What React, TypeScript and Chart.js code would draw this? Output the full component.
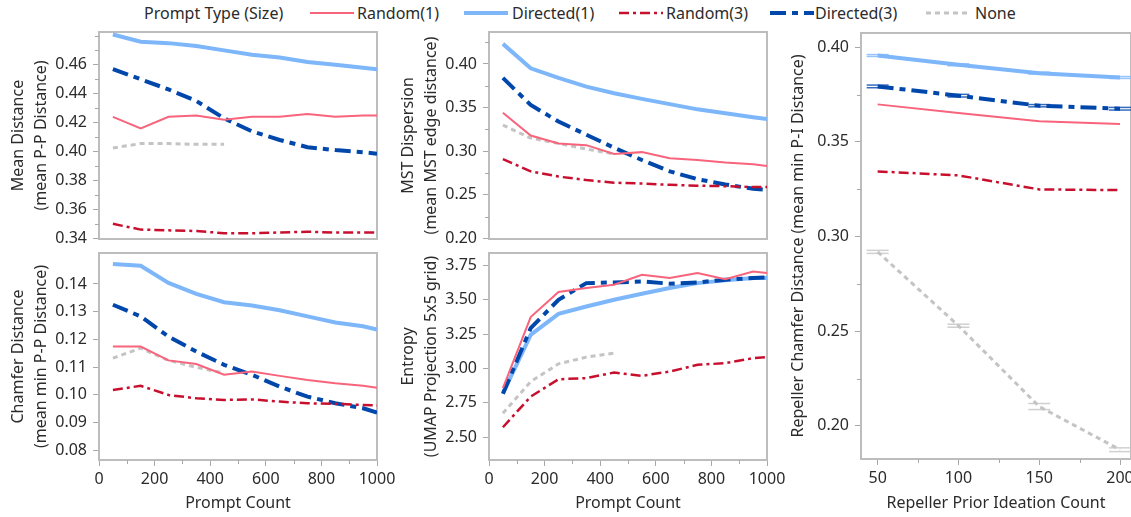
import React, { useEffect, useRef } from 'react';
import { Chart, registerables } from 'chart.js';
Chart.register(...registerables);

// ---------- data ----------
const seriesNames = ['Random(1)', 'Directed(1)', 'Random(3)', 'Directed(3)', 'None'];
const seriesColors = ['#F8647B', '#7EB6FA', '#C8102E', '#0047AB', '#C4C4C4'];
const seriesWidths = [2, 4, 2.5, 4, 3];
const seriesDashes = [[], [], [10, 4, 3, 4], [16, 6, 6, 6], [5, 4]];
const legendTitle = 'Prompt Type (Size)';

const promptCounts = [50, 150, 250, 350, 450, 550, 650, 750, 850, 950, 1000];
const noneCounts = [50, 150, 250, 350, 450];
const promptTicks = [0, 200, 400, 600, 800, 1000];

const meanR1 = [0.424, 0.416, 0.424, 0.425, 0.422, 0.424, 0.424, 0.426, 0.424, 0.425, 0.425];
const meanD1 = [0.481, 0.476, 0.475, 0.473, 0.470, 0.467, 0.465, 0.462, 0.460, 0.458, 0.457];
const meanR3 = [0.350, 0.346, 0.3455, 0.345, 0.3435, 0.3435, 0.344, 0.3445, 0.344, 0.344, 0.344];
const meanD3 = [0.457, 0.450, 0.443, 0.435, 0.423, 0.414, 0.408, 0.403, 0.401, 0.3995, 0.3985];
const meanNone = [0.4025, 0.4055, 0.4055, 0.405, 0.405];
const meanTicks = [0.34, 0.36, 0.38, 0.40, 0.42, 0.44, 0.46];

const mstR1 = [0.344, 0.318, 0.309, 0.307, 0.297, 0.299, 0.292, 0.290, 0.287, 0.285, 0.283];
const mstD1 = [0.423, 0.395, 0.384, 0.374, 0.3665, 0.360, 0.354, 0.348, 0.3435, 0.339, 0.337];
const mstR3 = [0.291, 0.277, 0.271, 0.267, 0.264, 0.263, 0.2615, 0.2605, 0.260, 0.259, 0.259];
const mstD3 = [0.384, 0.353, 0.334, 0.319, 0.304, 0.290, 0.277, 0.268, 0.262, 0.257, 0.256];
const mstNone = [0.330, 0.315, 0.309, 0.3025, 0.297];
const mstTicks = [0.20, 0.25, 0.30, 0.35, 0.40];

const chamR1 = [0.1174, 0.1174, 0.1124, 0.1111, 0.1072, 0.1084, 0.1068, 0.1053, 0.1041, 0.1032, 0.1025];
const chamD1 = [0.1472, 0.1466, 0.1404, 0.1364, 0.1334, 0.1322, 0.1305, 0.1283, 0.1261, 0.1247, 0.1235];
const chamR3 = [0.1017, 0.1032, 0.0999, 0.0987, 0.0981, 0.0983, 0.0975, 0.0969, 0.0967, 0.0963, 0.0961];
const chamD3 = [0.1325, 0.1283, 0.1210, 0.1156, 0.1108, 0.1072, 0.1029, 0.0993, 0.0969, 0.0951, 0.0935];
const chamNone = [0.1132, 0.1168, 0.1124, 0.1099, 0.1078];
const chamTicks = [0.08, 0.09, 0.10, 0.11, 0.12, 0.13, 0.14];

const entR1 = [2.857, 3.374, 3.556, 3.585, 3.609, 3.682, 3.658, 3.694, 3.650, 3.706, 3.694];
const entD1 = [2.820, 3.245, 3.398, 3.451, 3.500, 3.544, 3.585, 3.621, 3.641, 3.658, 3.658];
const entR3 = [2.573, 2.796, 2.922, 2.930, 2.971, 2.947, 2.978, 3.027, 3.039, 3.075, 3.083];
const entD3 = [2.816, 3.294, 3.500, 3.621, 3.626, 3.633, 3.617, 3.626, 3.646, 3.658, 3.663];
const entNone = [2.675, 2.905, 3.034, 3.083, 3.112];
const entTicks = [2.50, 2.75, 3.00, 3.25, 3.50, 3.75];

const repCounts = [50, 100, 150, 200];
const repR1 = [0.3698, 0.3653, 0.3609, 0.3595];
const repD1 = [0.3956, 0.3907, 0.3863, 0.3840];
const repR3 = [0.3344, 0.3323, 0.3249, 0.3245];
const repD3 = [0.3793, 0.3744, 0.3691, 0.3675];
const repNone = [0.2919, 0.2529, 0.2102, 0.1874];
const repErrD1 = [0.0005, 0.0005, 0.0005, 0.0005];
const repErrD3 = [0.0007, 0.0007, 0.0006, 0.0007];
const repErrNone = [0.0008, 0.0008, 0.0016, 0.0010];
const repYTicks = [0.20, 0.25, 0.30, 0.35, 0.40];
const repXTicks = [50, 100, 150, 200];

// ---------- styling ----------
const FONT = "'Noto Sans', sans-serif";
const TEXT = '#2b2b2b';
const TICK = '#a8a8a8';
const FRAME = '#bdbdbd';

function line(idx: number, xs: number[], ys: number[], errors?: number[]) {
  return {
    label: seriesNames[idx],
    data: xs.map((x, i) => ({ x, y: ys[i] })),
    borderColor: seriesColors[idx],
    backgroundColor: seriesColors[idx],
    borderWidth: seriesWidths[idx],
    borderDash: seriesDashes[idx],
    pointRadius: 0,
    tension: 0,
    fill: false,
    errors,
  };
}

const framePlugin = {
  id: 'frame',
  beforeDatasetsDraw(chart: any, _a: any, opts: any) {
    const { ctx, chartArea: a } = chart;
    ctx.save();
    ctx.strokeStyle = FRAME;
    ctx.lineWidth = 2;
    ctx.strokeRect(a.left, a.top, a.right - a.left, a.bottom - a.top);
    ctx.strokeStyle = TICK;
    ctx.lineWidth = 1;
    const drawMinor = (scale: any, step: number, vertical: boolean) => {
      if (!step) return;
      const majors = scale.ticks.map((t: any) => t.value);
      const k0 = Math.ceil(scale.min / step - 1e-9);
      for (let k = k0; k * step <= scale.max + 1e-9; k++) {
        const v = k * step;
        if (majors.some((m: number) => Math.abs(m - v) < step * 1e-3)) continue;
        const p = Math.round(scale.getPixelForValue(v)) + 0.5;
        ctx.beginPath();
        if (vertical) {
          ctx.moveTo(a.left - 4, p);
          ctx.lineTo(a.left, p);
        } else {
          ctx.moveTo(p, a.bottom);
          ctx.lineTo(p, a.bottom + 4);
        }
        ctx.stroke();
      }
    };
    drawMinor(chart.scales.y, opts.yMinor, true);
    if (chart.scales.x.options.display) drawMinor(chart.scales.x, opts.xMinor, false);
    ctx.restore();
  },
  afterDatasetsDraw(chart: any) {
    const { ctx } = chart;
    const xs = chart.scales.x;
    const ys = chart.scales.y;
    ctx.save();
    chart.data.datasets.forEach((ds: any) => {
      if (!ds.errors) return;
      ctx.strokeStyle = ds.borderColor;
      ctx.globalAlpha = 0.8;
      ctx.lineWidth = 1.5;
      ds.data.forEach((pt: any, i: number) => {
        const e = ds.errors[i];
        const px = xs.getPixelForValue(pt.x);
        [pt.y + e, pt.y - e].forEach((v) => {
          const py = ys.getPixelForValue(v);
          ctx.beginPath();
          ctx.moveTo(px - 11, py);
          ctx.lineTo(px + 11, py);
          ctx.stroke();
        });
      });
    });
    ctx.restore();
  },
};

type Panel = {
  left: number; top: number; width: number; height: number;
  pad: { top: number; right: number; bottom: number; left: number };
  yWidth: number; xHeight: number;
  yMin: number; yMax: number; yTicks: number[]; yMinor: number; yTitle: string[] | string;
  xMin: number; xMax: number; xTicks: number[]; xMinor: number; xTitle: string;
  datasets: any[];
};

function promptSets(r1: number[], d1: number[], r3: number[], d3: number[], none: number[]) {
  return [
    line(0, promptCounts, r1),
    line(2, promptCounts, r3),
    line(4, noneCounts, none),
    line(3, promptCounts, d3),
    line(1, promptCounts, d1),
  ];
}

const panels: Panel[] = [
  {
    left: 0, top: 12, width: 402, height: 247,
    pad: { top: 20, right: 25, bottom: 20, left: 0 },
    yWidth: 99, xHeight: 0,
    yMin: 0.3395, yMax: 0.4827, yTicks: meanTicks, yMinor: 0.01,
    yTitle: ['Mean Distance', '(mean P-P Distance)'],
    xMin: 0, xMax: 1000, xTicks: promptTicks, xMinor: 100, xTitle: 'Prompt Count',
    datasets: promptSets(meanR1, meanD1, meanR3, meanD3, meanNone),
  },
  {
    left: 390, top: 12, width: 402, height: 247,
    pad: { top: 20, right: 25, bottom: 20, left: 0 },
    yWidth: 99, xHeight: 0,
    yMin: 0.1995, yMax: 0.4366, yTicks: mstTicks, yMinor: 0.025,
    yTitle: ['MST Dispersion', '(mean MST edge distance)'],
    xMin: 0, xMax: 1000, xTicks: promptTicks, xMinor: 100, xTitle: 'Prompt Count',
    datasets: promptSets(mstR1, mstD1, mstR3, mstD3, mstNone),
  },
  {
    left: 0, top: 233, width: 402, height: 284,
    pad: { top: 20, right: 25, bottom: 0, left: 0 },
    yWidth: 99, xHeight: 57,
    yMin: 0.0764, yMax: 0.1512, yTicks: chamTicks, yMinor: 0,
    yTitle: ['Chamfer Distance', '(mean min P-P Distance)'],
    xMin: 0, xMax: 1000, xTicks: promptTicks, xMinor: 100, xTitle: 'Prompt Count',
    datasets: promptSets(chamR1, chamD1, chamR3, chamD3, chamNone),
  },
  {
    left: 390, top: 233, width: 402, height: 284,
    pad: { top: 20, right: 25, bottom: 0, left: 0 },
    yWidth: 99, xHeight: 57,
    yMin: 2.335, yMax: 3.84, yTicks: entTicks, yMinor: 0,
    yTitle: ['Entropy', '(UMAP Projection 5x5 grid)'],
    xMin: 0, xMax: 1000, xTicks: promptTicks, xMinor: 100, xTitle: 'Prompt Count',
    datasets: promptSets(entR1, entD1, entR3, entD3, entNone),
  },
  {
    left: 780, top: 13, width: 376, height: 504,
    pad: { top: 20, right: 25, bottom: 0, left: 0 },
    yWidth: 81, xHeight: 58,
    yMin: 0.1825, yMax: 0.4075, yTicks: repYTicks, yMinor: 0.025,
    yTitle: 'Repeller Chamfer Distance (mean min P-I Distance)',
    xMin: 39.7, xMax: 206.8, xTicks: repXTicks, xMinor: 25, xTitle: 'Repeller Prior Ideation Count',
    datasets: [
      line(0, repCounts, repR1),
      line(2, repCounts, repR3),
      line(4, repCounts, repNone, repErrNone),
      line(3, repCounts, repD3, repErrD3),
      line(1, repCounts, repD1, repErrD1),
    ],
  },
];

function ChartPanel({ p }: { p: Panel }) {
  const ref = useRef<HTMLCanvasElement>(null);
  useEffect(() => {
    if (!ref.current) return;
    const multi = Array.isArray(p.yTitle);
    const lh = multi ? 1.47 : 1.2;
    const titlePadTop = 18 - (16 * lh) / 2;
    const chart = new Chart(ref.current, {
      type: 'line',
      data: { datasets: p.datasets },
      plugins: [framePlugin],
      options: {
        animation: false,
        responsive: false,
        devicePixelRatio: 1,
        layout: { padding: p.pad },
        plugins: {
          legend: { display: false },
          tooltip: { enabled: false },
          frame: { yMinor: p.yMinor, xMinor: p.xMinor },
        } as any,
        scales: {
          x: {
            type: 'linear',
            display: p.xHeight > 0,
            min: p.xMin,
            max: p.xMax,
            afterFit: (s: any) => { s.height = p.xHeight; },
            afterBuildTicks: (s: any) => { s.ticks = p.xTicks.map((v) => ({ value: v })); },
            ticks: {
              autoSkip: false,
              maxRotation: 0,
              padding: 4,
              color: TEXT,
              font: { family: FONT, size: 16 },
              callback: (v: any) => String(v),
            },
            grid: { drawOnChartArea: false, tickLength: 6, tickColor: TICK, tickWidth: 1 },
            border: { display: false },
            title: {
              display: true,
              text: p.xTitle,
              color: TEXT,
              font: { family: FONT, size: 16 },
              padding: { top: 0, bottom: 4 },
            },
          },
          y: {
            type: 'linear',
            min: p.yMin,
            max: p.yMax,
            afterFit: (s: any) => { s.width = p.yWidth; },
            afterBuildTicks: (s: any) => { s.ticks = p.yTicks.map((v) => ({ value: v })); },
            ticks: {
              autoSkip: false,
              padding: 6,
              color: TEXT,
              font: { family: FONT, size: 16 },
              callback: (v: any) => Number(v).toFixed(2),
            },
            grid: { drawOnChartArea: false, tickLength: 6, tickColor: TICK, tickWidth: 1 },
            border: { display: false },
            title: {
              display: true,
              text: p.yTitle as any,
              color: TEXT,
              font: { family: FONT, size: 16, lineHeight: lh },
              padding: { top: titlePadTop, bottom: 0 },
            },
          },
        },
      } as any,
    });
    return () => chart.destroy();
  }, [p]);
  return (
    <canvas
      ref={ref}
      width={p.width}
      height={p.height}
      style={{ position: 'absolute', left: p.left, top: p.top, width: p.width, height: p.height }}
    />
  );
}

const legendSampleX = [310, 464, 619, 770, 926];
const legendTextX = [357, 512, 666, 815, 975];

function Legend() {
  const textStyle: React.CSSProperties = {
    position: 'absolute',
    top: 3,
    height: 20,
    lineHeight: '20px',
    fontFamily: FONT,
    fontSize: 16,
    color: TEXT,
    whiteSpace: 'nowrap',
  };
  return (
    <>
      <div style={{ ...textStyle, left: 144 }}>{legendTitle}</div>
      {seriesNames.map((name, i) => (
        <React.Fragment key={name}>
          <svg
            width={44}
            height={20}
            style={{ position: 'absolute', left: legendSampleX[i], top: 3 }}
          >
            <line
              x1={0}
              y1={10}
              x2={44}
              y2={10}
              stroke={seriesColors[i]}
              strokeWidth={seriesWidths[i]}
              strokeDasharray={seriesDashes[i].length ? seriesDashes[i].join(' ') : undefined}
            />
          </svg>
          <div style={{ ...textStyle, left: legendTextX[i] }}>{name}</div>
        </React.Fragment>
      ))}
    </>
  );
}

export default function App() {
  return (
    <div
      style={{
        position: 'absolute',
        left: 0,
        top: 0,
        width: 1131,
        height: 517,
        overflow: 'hidden',
        background: '#ffffff',
      }}
    >
      <Legend />
      {panels.map((p, i) => (
        <ChartPanel key={i} p={p} />
      ))}
    </div>
  );
}
